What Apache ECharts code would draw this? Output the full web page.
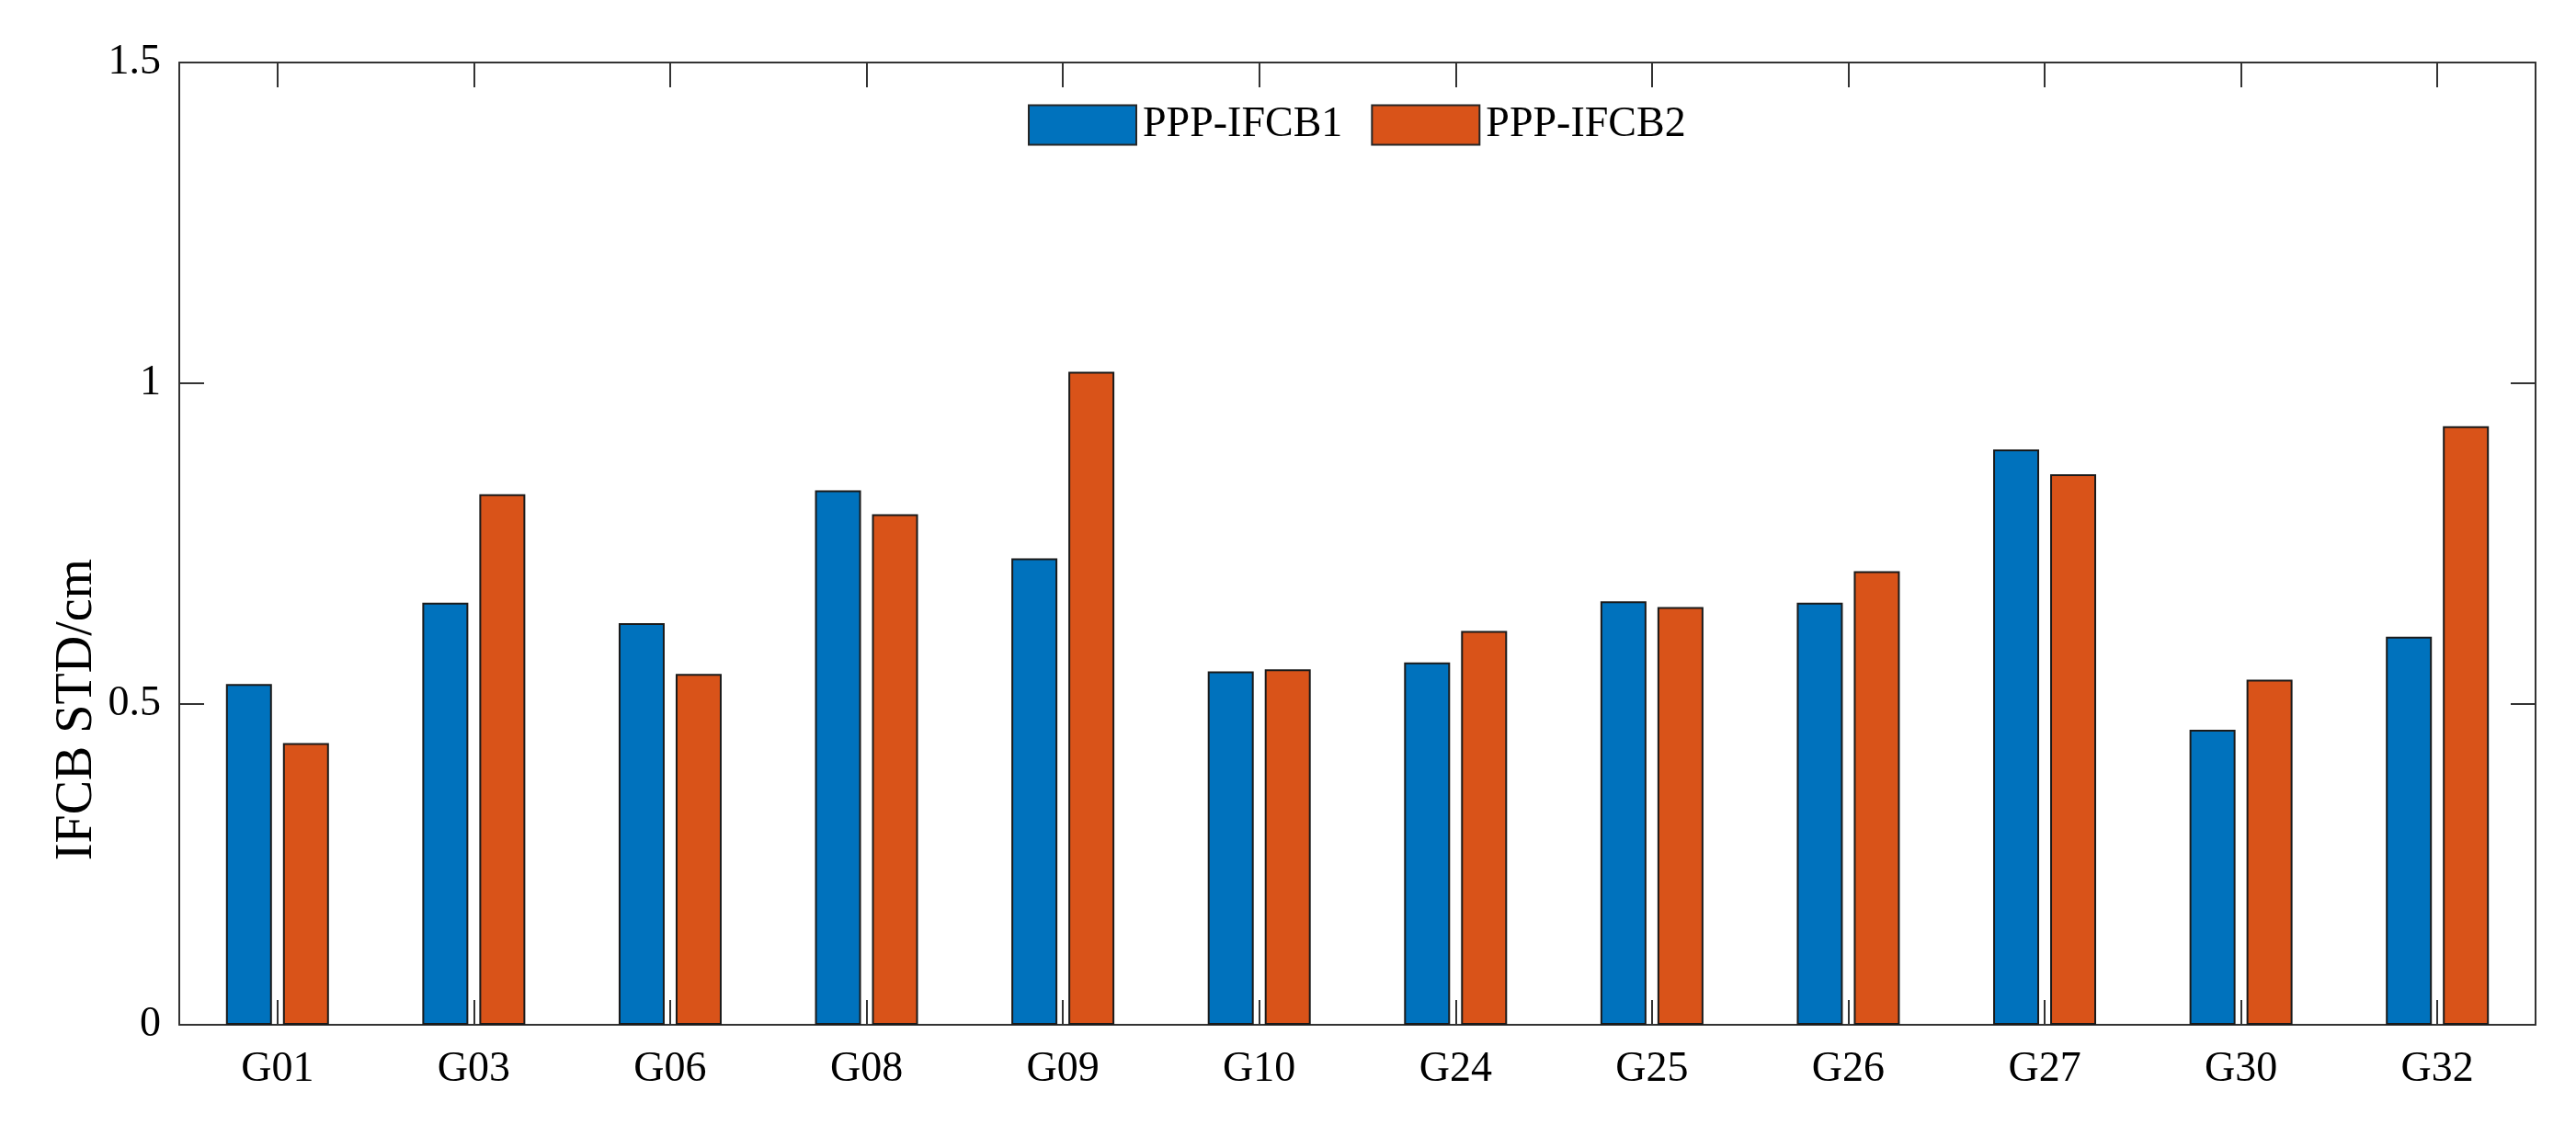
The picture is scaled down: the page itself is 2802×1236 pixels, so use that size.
<!DOCTYPE html>
<html>
<head>
<meta charset="utf-8">
<script src="https://cdn.jsdelivr.net/npm/echarts@6/dist/echarts.min.js"></script>
<style>
html,body{margin:0;padding:0;background:#fff;}
#chart{width:2802px;height:1236px;}
</style>
</head>
<body>
<div id="chart"></div>
<script>
const categories = ['G01','G03','G06','G08','G09','G10','G24','G25','G26','G27','G30','G32'];
const seriesNames = ['PPP-IFCB1','PPP-IFCB2'];
const ifcb1 = [0.531,0.658,0.626,0.833,0.727,0.551,0.565,0.660,0.658,0.897,0.460,0.605];
const ifcb2 = [0.439,0.827,0.547,0.796,1.018,0.554,0.614,0.651,0.707,0.858,0.538,0.933];
const yTicks = [0, 0.5, 1, 1.5];
const yTitle = 'IFCB STD/cm';

const FONT = 'Liberation Serif';
const AX = '#333333';
const chart = echarts.init(document.getElementById('chart'));

const tickStyle = {show:true, inside:true, length:27, lineStyle:{color:AX, width:2}};
const lineStyle = {show:true, onZero:false, lineStyle:{color:AX, width:2}};

chart.setOption({
  animation:false,
  backgroundColor:'#fff',
  grid:{left:195, right:44, top:68, bottom:121, containLabel:false},
  legend:{
    data:seriesNames,
    top:108, left:1113,
    icon:'rect', itemWidth:117, itemHeight:43, itemGap:31,
    itemStyle:{borderColor:'#262626', borderWidth:2},
    textStyle:{fontFamily:FONT, fontSize:46, color:'#000', padding:[0,0,0,2]}
  },
  graphic:[{
    type:'text', x:84, y:772, rotation:Math.PI/2,
    style:{text:yTitle, fontFamily:FONT, fontSize:56, fill:'#000',
           textAlign:'center', textVerticalAlign:'middle'}
  }],
  xAxis:[
    {type:'category', data:categories, position:'bottom',
     axisLine:lineStyle,
     axisTick:Object.assign({alignWithLabel:true}, tickStyle),
     axisLabel:{fontFamily:FONT, fontSize:46, color:'#000', margin:26},
     splitLine:{show:false}},
    {type:'category', data:categories, position:'top',
     axisLine:lineStyle,
     axisTick:Object.assign({alignWithLabel:true}, tickStyle),
     axisLabel:{show:false}, splitLine:{show:false}}
  ],
  yAxis:[
    {type:'value', min:yTicks[0], max:yTicks[yTicks.length-1], interval:0.5, position:'left',
     axisLine:lineStyle, axisTick:tickStyle,
     axisLabel:{fontFamily:FONT, fontSize:46, color:'#000', margin:20},
     splitLine:{show:false}},
    {type:'value', min:yTicks[0], max:yTicks[yTicks.length-1], interval:0.5, position:'right',
     axisLine:lineStyle, axisTick:tickStyle,
     axisLabel:{show:false}, splitLine:{show:false}}
  ],
  series:[
    {name:seriesNames[0], type:'bar', data:ifcb1, xAxisIndex:0, yAxisIndex:0,
     barWidth:50, barGap:'24%',
     itemStyle:{color:'#0072BD', borderColor:'#1a1a1a', borderWidth:2}},
    {name:seriesNames[1], type:'bar', data:ifcb2, xAxisIndex:0, yAxisIndex:0,
     barWidth:50, barGap:'24%',
     itemStyle:{color:'#D95319', borderColor:'#1a1a1a', borderWidth:2}}
  ]
});
</script>
</body>
</html>
